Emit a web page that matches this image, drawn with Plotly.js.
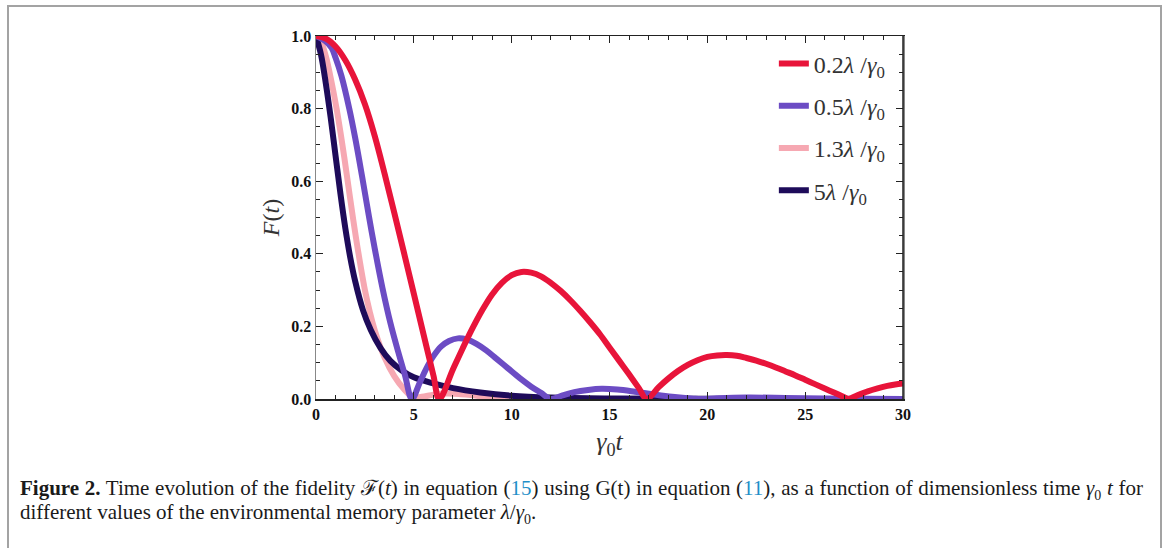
<!DOCTYPE html>
<html>
<head>
<meta charset="utf-8">
<script src="https://cdn.plot.ly/plotly-3.0.1.min.js"></script>
<style>
  html, body { margin: 0; padding: 0; background: #fff; }
  #wrap { position: relative; width: 1170px; height: 548px; overflow: hidden; }
  #frame {
    position: absolute; left: 7px; top: 5px; width: 1155px; height: 560px;
    border: 2px solid #a3a3a3; border-bottom: none; box-sizing: border-box;
  }
  #plot { position: absolute; left: 0; top: 0; width: 1170px; height: 548px; }
  #caption {
    position: absolute; left: 20px; top: 476px;
    font-family: "Liberation Serif", "DejaVu Serif", serif; font-size: 21px;
    line-height: 24px; color: #1a1a1a; word-spacing: 0;
  }
  #caption .line { white-space: nowrap; }
  #caption .first { width: 1123px; text-align: justify; text-align-last: justify; }
  #caption sub { font-size: 14px; line-height: 0; }
  #caption .ref { color: #1f8fc8; }
</style>
</head>
<body>
<div id="wrap">
  <div id="frame"></div>
  <div id="plot"></div>
  <div id="caption">
    <div class="line first"><b>Figure 2.</b> Time evolution of the fidelity ℱ(<i>t</i>) in equation (<span class="ref">15</span>) using G(t) in equation (<span class="ref">11</span>), as a function of dimensionless time <i>γ</i><sub>0</sub> <i>t</i> for</div>
    <div class="line">different values of the environmental memory parameter <i>λ</i>/<i>γ</i><sub>0</sub>.</div>
  </div>
</div>
<script>
// Fidelity F(t) versus dimensionless time γ0 t for four memory parameters λ/γ0

// λ/γ0 = 0.2
const tRed = [0, 0.5, 1, 1.5, 2, 2.5, 3, 3.5, 4, 4.5, 5, 5.5, 6, 6.3,
  7, 7.5, 8, 8.5, 9, 9.5, 10, 10.5, 11, 11.5, 12, 12.5, 13, 13.5, 14, 14.5, 15, 15.5, 16, 16.5, 16.9,
  17.5, 18, 18.5, 19, 19.5, 20, 20.5, 21, 21.5, 22, 22.5, 23, 23.5, 24, 24.5, 25, 25.5, 26, 26.5, 27, 27.2,
  27.7, 28.2, 28.7, 29.2, 29.6, 30];
const fRed = [1, 0.993, 0.971, 0.933, 0.88, 0.812, 0.725, 0.622, 0.513, 0.402, 0.29, 0.177, 0.065, 0,
  0.082, 0.14, 0.195, 0.245, 0.288, 0.32, 0.341, 0.35, 0.348, 0.338, 0.32, 0.298, 0.272, 0.243, 0.212, 0.179, 0.142, 0.105, 0.068, 0.03, 0,
  0.032, 0.056, 0.077, 0.094, 0.107, 0.116, 0.12, 0.121, 0.119, 0.113, 0.106, 0.097, 0.087, 0.076, 0.065, 0.053, 0.041, 0.029, 0.017, 0.005, 0,
  0.011, 0.021, 0.029, 0.036, 0.04, 0.043];

// λ/γ0 = 0.5
const tPurple = [0, 0.5, 0.8, 1.0, 1.3, 1.7, 2.0, 2.35, 2.7, 3.0, 3.4, 3.8, 4.2, 4.55, 4.9,
  5.3, 5.65, 6.0, 6.4, 6.8, 7.25, 7.7, 8.2, 8.7, 9.2, 9.8, 10.4, 11, 11.5, 12,
  12.6, 13.2, 13.9, 14.6, 15.4, 16.3, 17.2, 18.2, 19.3, 19.7, 20.5, 22, 24, 26, 28, 30];
const fPurple = [1, 0.985, 0.967, 0.94, 0.89, 0.8, 0.72, 0.615, 0.505, 0.415, 0.305, 0.21, 0.13, 0.065, 0,
  0.045, 0.085, 0.118, 0.145, 0.16, 0.167, 0.164, 0.152, 0.134, 0.112, 0.085, 0.058, 0.034, 0.017, 0,
  0.01, 0.019, 0.025, 0.028, 0.026, 0.02, 0.013, 0.006, 0.001, 0, 0.002, 0.004, 0.003, 0.0015, 0.0007, 0.0003];

// λ/γ0 = 1.3
const tPink = [0, 0.25, 0.5, 0.75, 1.05, 1.35, 1.62, 1.9, 2.16, 2.5, 2.75, 3.0, 3.5, 4.0, 4.5, 4.95,
  5.4, 6.0, 6.6, 7.3, 8.2, 9.2, 10.5, 12, 15, 30];
const fPink = [1, 0.985, 0.945, 0.885, 0.8, 0.7, 0.6, 0.495, 0.405, 0.3, 0.24, 0.19, 0.115, 0.063, 0.027, 0.005,
  0.006, 0.012, 0.015, 0.014, 0.009, 0.005, 0.002, 0.0008, 0.0002, 0];

// λ/γ0 = 5
const tNavy = [0, 0.25, 0.5, 0.75, 1.0, 1.25, 1.5, 1.75, 2.0, 2.4, 2.8, 3.3, 3.8, 4.4, 5.0,
  6.0, 7.0, 8.4, 10, 12, 15, 20, 30];
const fNavy = [1, 0.95, 0.87, 0.775, 0.67, 0.565, 0.47, 0.39, 0.325, 0.245, 0.19, 0.14, 0.105, 0.078, 0.06,
  0.043, 0.03, 0.018, 0.009, 0.004, 0.0015, 0.0004, 0];

const seriesNames = [
  '0.2<i>λ</i> /<i>γ</i><sub>0</sub>',
  '0.5<i>λ</i> /<i>γ</i><sub>0</sub>',
  '1.3<i>λ</i> /<i>γ</i><sub>0</sub>',
  '5<i>λ</i> /<i>γ</i><sub>0</sub>'
];
const seriesColors = ['#e8143a', '#6c4cc4', '#f6a8b2', '#1e0b5a'];

const xTickVals = [0, 5, 10, 15, 20, 25, 30];
const yTickVals = [0, 0.2, 0.4, 0.6, 0.8, 1.0];
const yTickText = ['0.0', '0.2', '0.4', '0.6', '0.8', '1.0'];

function curve(t, f, i, rank) {
  return {
    x: t, y: f, type: 'scatter', mode: 'lines',
    name: seriesNames[i], legendgroup: 'g' + i, legendrank: rank,
    line: { color: seriesColors[i], width: 6, shape: 'spline', smoothing: 1 },
    hoverinfo: 'skip'
  };
}

// drawing order: pink, navy, purple, red (red on top)
const data = [
  curve(tPink, fPink, 2, 3),
  curve(tNavy, fNavy, 3, 4),
  curve(tPurple, fPurple, 1, 2),
  curve(tRed, fRed, 0, 1)
];

const tickFont = { family: 'Liberation Serif, Times New Roman, serif', size: 16, color: '#111', weight: 'bold' };
const mathFont = { family: 'Liberation Serif, DejaVu Serif, serif', color: '#333' };

const layout = {
  width: 1170, height: 548,
  margin: { l: 316, r: 267, t: 36, b: 149 },
  paper_bgcolor: 'rgba(0,0,0,0)',
  plot_bgcolor: '#fff',
  showlegend: true,
  legend: {
    x: 0.78, xanchor: 'left', y: 0.985, yanchor: 'top',
    bgcolor: 'rgba(0,0,0,0)', borderwidth: 0,
    tracegroupgap: 8,
    font: Object.assign({}, mathFont, { size: 24 })
  },
  xaxis: {
    range: [0, 30], tickvals: xTickVals, ticktext: xTickVals.map(String),
    ticks: 'inside', ticklen: 7, tickwidth: 1, tickcolor: '#222',
    minor: { dtick: 1, ticks: 'inside', ticklen: 4, tickcolor: '#222' },
    showline: true, linecolor: '#222', linewidth: 1.5, mirror: 'allticks',
    showgrid: false, zeroline: false,
    tickfont: tickFont,
    title: { text: '<i>γ</i><sub>0</sub><i>t</i>', standoff: 10,
      font: Object.assign({}, mathFont, { size: 26 }) },
    automargin: false
  },
  yaxis: {
    range: [0, 1], tickvals: yTickVals, ticktext: yTickText,
    ticks: 'inside', ticklen: 7, tickwidth: 1, tickcolor: '#222',
    minor: { dtick: 0.05, ticks: 'inside', ticklen: 4, tickcolor: '#222' },
    showline: true, linecolor: '#888', linewidth: 1.5, mirror: 'allticks',
    showgrid: false, zeroline: false,
    tickfont: tickFont,
    title: { text: '<i>F</i>(<i>t</i>)', standoff: 5,
      font: Object.assign({}, mathFont, { size: 24 }) },
    automargin: false
  },
  shapes: [
    { type: 'line', xref: 'x domain', yref: 'y domain', x0: 1, x1: 1, y0: 0, y1: 1,
      line: { color: '#222', width: 1.5 }, layer: 'above' }
  ]
};

Plotly.newPlot('plot', data, layout, { displayModeBar: false, staticPlot: true });
</script>
</body>
</html>
